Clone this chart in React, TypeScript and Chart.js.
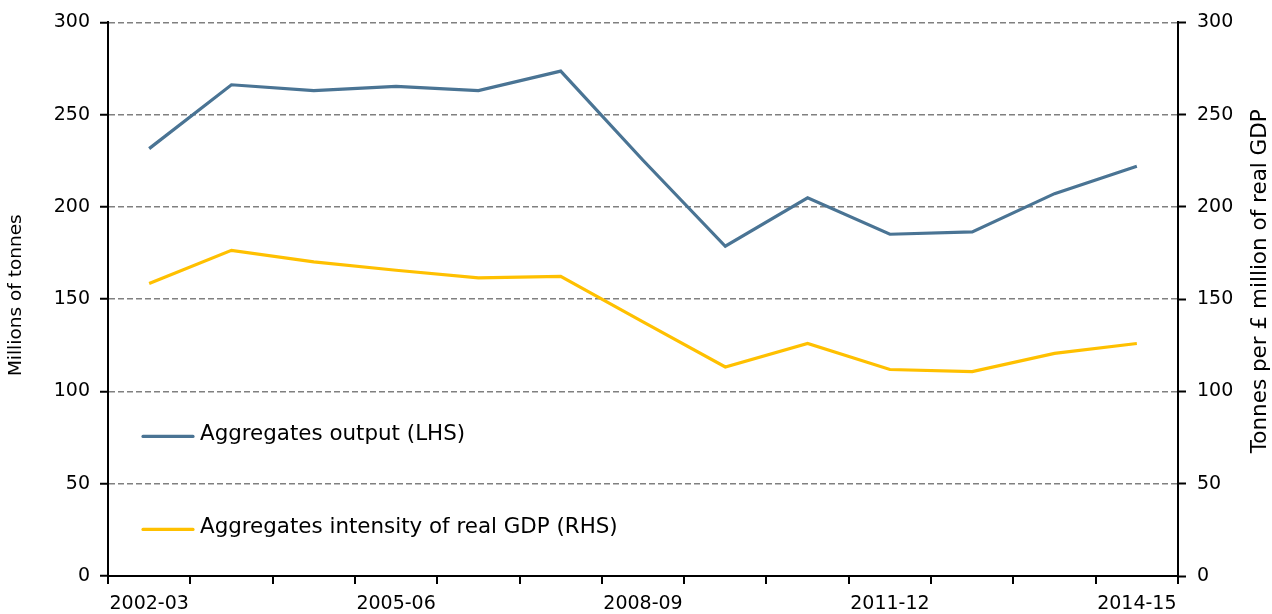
import React, { useEffect, useRef } from "react";
import { Chart, registerables } from "chart.js";

Chart.register(...registerables);

const categories = [
  "2002-03", "2003-04", "2004-05", "2005-06", "2006-07", "2007-08", "2008-09",
  "2009-10", "2010-11", "2011-12", "2012-13", "2013-14", "2014-15",
];
const aggregatesOutput = [231.6, 266.2, 263.0, 265.3, 263.0, 273.6, 225.3, 178.7, 204.9, 185.2, 186.5, 207.2, 222.0];
const aggregatesIntensity = [158.5, 176.5, 170.2, 165.7, 161.6, 162.4, 137.7, 113.3, 126.0, 111.9, 110.8, 120.6, 126.0];
const yTicks = [0, 50, 100, 150, 200, 250, 300];
const seriesNames = ["Aggregates output (LHS)", "Aggregates intensity of real GDP (RHS)"];
const axisTitles = ["Millions of tonnes", "Tonnes per £ million of real GDP"];
const colors = ["#4a7494", "#ffc000"];
const FONT = "'DejaVu Sans', Verdana, sans-serif";

const annotationPlugin = {
  id: "inlineLegendAndTitles",
  afterDraw(chart: any) {
    const { ctx, chartArea } = chart;
    ctx.save();
    // legend
    const items = [
      { text: seriesNames[0], color: colors[0], dy: 414 },
      { text: seriesNames[1], color: colors[1], dy: 507 },
    ];
    items.forEach((it) => {
      const y = chartArea.top + it.dy;
      const x0 = chartArea.left + 35;
      ctx.strokeStyle = it.color;
      ctx.lineWidth = 3.2;
      ctx.lineCap = "round";
      ctx.beginPath();
      ctx.moveTo(x0, y);
      ctx.lineTo(x0 + 50, y);
      ctx.stroke();
      ctx.fillStyle = "#000";
      ctx.font = `21.4px ${FONT}`;
      ctx.textBaseline = "middle";
      ctx.textAlign = "left";
      ctx.fillText(it.text, x0 + 57, y - 2);
    });
    // axis titles (both read bottom-to-top)
    ctx.fillStyle = "#000";
    ctx.textAlign = "center";
    ctx.textBaseline = "middle";
    ctx.font = `18.5px ${FONT}`;
    ctx.save();
    ctx.translate(16, (chartArea.top + chartArea.bottom) / 2 - 4);
    ctx.rotate(-Math.PI / 2);
    ctx.fillText(axisTitles[0], 0, 0);
    ctx.restore();
    ctx.font = `21.5px ${FONT}`;
    ctx.save();
    ctx.translate(1260, (chartArea.top + chartArea.bottom) / 2 - 18);
    ctx.rotate(-Math.PI / 2);
    ctx.fillText(axisTitles[1], 0, 0);
    ctx.restore();
    ctx.restore();
  },
};

export default function App() {
  const ref = useRef<HTMLCanvasElement>(null);
  useEffect(() => {
    document.body.style.margin = "0";
    const chart = new Chart(ref.current as HTMLCanvasElement, {
      type: "line",
      data: {
        labels: categories,
        datasets: [
          {
            label: seriesNames[0],
            data: aggregatesOutput,
            borderColor: colors[0],
            backgroundColor: colors[0],
            borderWidth: 3.2,
            pointRadius: 0,
            tension: 0,
            yAxisID: "y",
          },
          {
            label: seriesNames[1],
            data: aggregatesIntensity,
            borderColor: colors[1],
            backgroundColor: colors[1],
            borderWidth: 3.2,
            pointRadius: 0,
            tension: 0,
            yAxisID: "y1",
          },
        ],
      },
      options: {
        animation: false,
        responsive: false,
        maintainAspectRatio: false,
        layout: { padding: { top: 22, left: 0, right: 0, bottom: 0 } },
        plugins: { legend: { display: false }, tooltip: { enabled: false } },
        scales: {
          x: {
            offset: true,
            grid: {
              offset: true,
              drawOnChartArea: false,
              drawTicks: true,
              tickLength: 8,
              color: "#000",
              lineWidth: 2,
            },
            border: { color: "#000", width: 2 },
            ticks: {
              autoSkip: false,
              maxRotation: 0,
              padding: 9,
              color: "#000",
              font: { family: FONT, size: 19 },
              callback: (_v: any, i: number) => (i % 3 === 0 ? categories[i] : ""),
            },
            afterFit: (s: any) => {
              s.height = 38;
            },
          },
          y: {
            position: "left",
            min: 0,
            max: 300,
            afterBuildTicks: (s: any) => {
              s.ticks = yTicks.map((v) => ({ value: v }));
            },
            grid: {
              color: (c: any) => (c.tick && c.tick.value === 0 ? "rgba(0,0,0,0)" : "#808080"),
              lineWidth: 1.5,
              tickColor: "#000",
              tickLength: 8,
              tickWidth: 2,
            },
            border: { color: "#000", width: 2, dash: [6, 3] },
            ticks: {
              color: "#000",
              padding: 10,
              font: { family: FONT, size: 19 },
            },
            afterFit: (s: any) => {
              s.width = 108;
            },
          },
          y1: {
            position: "right",
            min: 0,
            max: 300,
            afterBuildTicks: (s: any) => {
              s.ticks = yTicks.map((v) => ({ value: v }));
            },
            grid: {
              drawOnChartArea: false,
              tickColor: "#000",
              tickLength: 8,
              tickWidth: 2,
            },
            border: { color: "#000", width: 2 },
            ticks: {
              color: "#000",
              padding: 11,
              font: { family: FONT, size: 19 },
            },
            afterFit: (s: any) => {
              s.width = 94;
            },
          },
        },
      },
      plugins: [annotationPlugin],
    });
    return () => chart.destroy();
  }, []);
  return (
    <div style={{ position: "fixed", left: 0, top: 0, width: 1272, height: 614, background: "#fff" }}>
      <canvas ref={ref} width={1272} height={614} style={{ width: 1272, height: 614 }} />
    </div>
  );
}
